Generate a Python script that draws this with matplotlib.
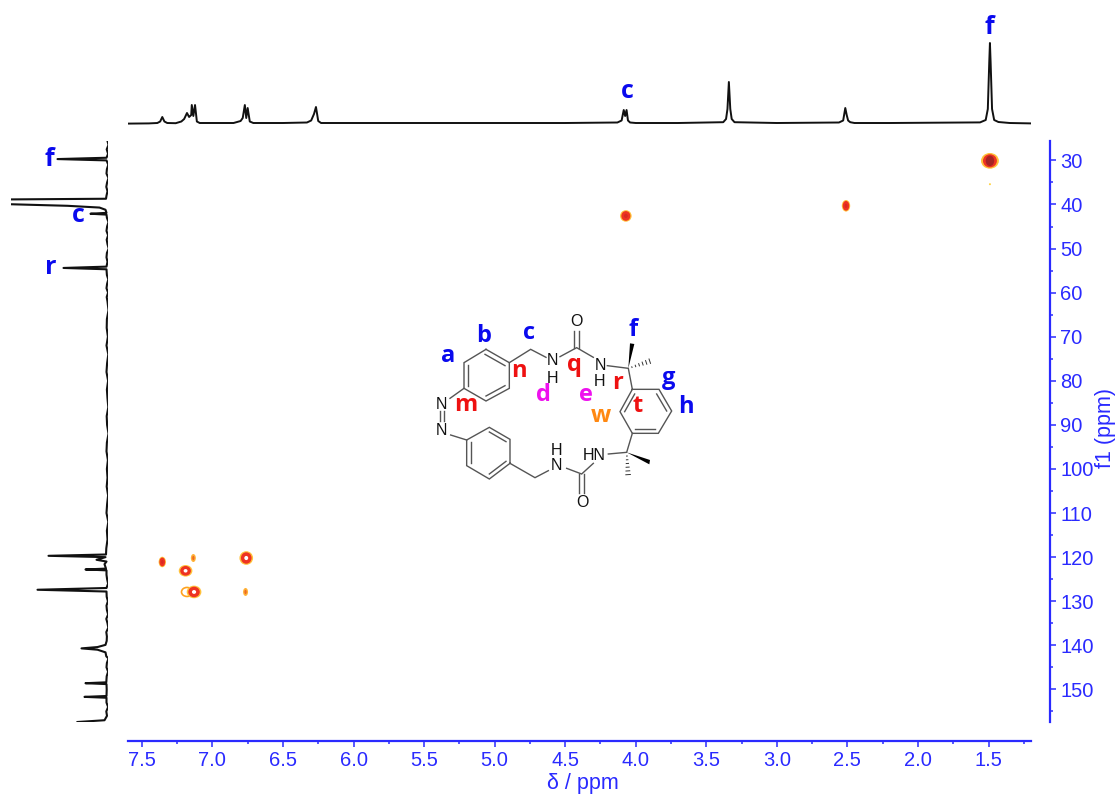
import matplotlib
matplotlib.use("Agg")
import matplotlib.pyplot as plt
from matplotlib.patches import Ellipse, Polygon

plt.rcParams["font.family"] = ["Liberation Sans", "DejaVu Sans"]

W, H = 1120, 796
BLUE = "#2a2aff"
LABEL_BLUE = "#0a0aee"

# 1H trace on top, ppm and height above baseline
top_ppm = [7.60, 7.45, 7.39, 7.37, 7.355, 7.34, 7.32, 7.26, 7.22, 7.20, 7.18, 7.165, 7.15, 7.146, 7.135, 7.123,
           7.11, 7.09, 7.0, 6.85, 6.80, 6.785, 6.77, 6.76, 6.75, 6.735, 6.71, 6.5, 6.33, 6.30, 6.28, 6.266,
           6.25, 6.23, 6.0, 5.0, 4.5, 4.13, 4.10, 4.085, 4.075, 4.065, 4.055, 4.04, 4.0, 3.7, 3.38, 3.36, 3.35,
           3.34, 3.33, 3.32, 3.30, 3.0, 2.56, 2.53, 2.515, 2.505, 2.495, 2.48, 2.45, 2.2, 1.56, 1.52, 1.505,
           1.495, 1.49, 1.485, 1.475, 1.46, 1.43, 1.35, 1.2]
top_int = [-0.6, -0.4, 0, 1.5, 6, 1.5, 0, -0.2, 1.5, 4, 10, 6, 8, 18, 7, 18,
           1.5, 0, 0, 0, 2, 5, 18, 5, 15, 1.5, 0, 0, 0.5, 2.5, 9, 16,
           2, 0, 0, 0, 0, 0.5, 2.5, 13, 7, 13, 2.5, 0.5, 0, 0, 0.8, 4, 14,
           41, 14, 4, 0.8, 0, 0.5, 2.5, 15, 8, 2.5, 0.8, 0, 0, 0.6, 3, 14,
           60, 80, 60, 14, 3, 1, 0, -0.4]

# 13C trace on the left, ppm and distance from baseline
left_ppm = [25.6, 26.5, 27.5, 28.5, 29.4, 29.7, 30.0, 31, 32, 33, 34, 35, 36, 37, 38, 38.7, 38.85]
left_int = [0, -1, 0.8, -0.6, 1, 50, 1, -0.8, 0.6, 1, -1, 0.4, 1.2, 0, 1, 1.5, 96.5]
left_ppm2 = [39.95, 40.3, 40.7, 41.2, 41.9, 42.1, 42.3, 43, 44, 45, 46, 47, 48, 49, 50, 51, 52, 53, 54.1, 54.4, 54.7,
             56, 57, 58, 59, 60, 61, 62, 64, 66, 68, 70, 72, 74, 76, 78, 80, 82, 84, 86, 88, 90, 92, 94, 96, 98, 100,
             102, 104, 106, 108, 110, 112, 114, 116, 118, 119.4, 119.7, 120.0, 120.6, 121, 121.6, 122.6, 122.8, 123.0,
             124, 125, 126, 127, 127.4, 127.8, 129, 130, 131, 132, 133, 134, 135, 136, 137, 138, 139, 139.9, 140.4,
             140.7, 141.0, 141.6, 142.5, 143, 144, 145, 146, 147, 148.4, 148.6, 148.8, 150, 151.5, 151.7, 151.9, 153,
             154, 155, 156, 157, 157.4]
left_int2 = [96.5, 40, 8, 2, 1, 17, 1, 0.6, -1, 0.4, 1, -0.6, 0.8, 0, -1.2, 0.6, 1, 0, 1, 44, 1,
             0.6, -0.8, 0.4, 1, -0.6, 0.8, 0, -1, 0.6, 0.8, -0.4, 1, -0.8, 0.4, 1, -0.6, 0.6, 0, -0.8, 0.8,
             0.4, -1, 0.6, 1, -0.4, 0.6, 0, 0.8, -0.6, 0.4, 1, -0.8, 0.6, 0, 1.2, 1.5, 59, 2, 11, 1, 3, 1.5, 22, 1,
             1, 0.4, -0.6, 1, 70, 1, 0.8, -0.4, 1, 0.6, -0.6, 1.2, 0, -0.8, 1.2, 0.6, 0.8, 2, 10,
             26, 10, 2, 1.2, -1, 0.6, 1, -0.6, 0.8, 1.2, 22, 1, 0.8, 1, 23, 1, 1,
             -0.6, 1.2, 0.5, 3, 30]

# HSQC cross peaks: x ppm, y ppm, width px, height px
spot_x = [1.49, 2.51, 4.07, 7.355, 6.76, 7.19, 7.18, 7.13, 7.135, 6.765, 1.49]
spot_y = [30.1, 40.3, 42.6, 121.1, 120.2, 123.1, 127.9, 127.9, 120.2, 127.9, 35.4]
spot_w = [17, 8, 11, 7, 13, 13, 11, 14, 5, 5, 2]
spot_h = [15, 11, 11, 10, 13, 11, 9, 12, 8, 8, 2]
spot_kind = ["dark", "red", "red", "red", "hole", "hole", "ring", "hole", "ring", "ring", "dot"]

x_major = [7.5, 7.0, 6.5, 6.0, 5.5, 5.0, 4.5, 4.0, 3.5, 3.0, 2.5, 2.0, 1.5]
x_minor = [7.25, 6.75, 6.25, 5.75, 5.25, 4.75, 4.25, 3.75, 3.25, 2.75, 2.25, 1.75, 1.25]
y_major = [30, 40, 50, 60, 70, 80, 90, 100, 110, 120, 130, 140, 150]
y_minor = [35, 45, 55, 65, 75, 85, 95, 105, 115, 125, 135, 145, 155]

# molecule, in a 960x690 drawing frame
mol_bonds = [
    [(328, 188), (392, 148), (438, 172)],
    [(480, 170), (530, 143), (580, 172)],
    [(622, 197), (685, 205), (697, 268)],
    [(697, 400), (680, 457), (625, 462)],
    [(580, 490), (545, 522), (500, 505)],
    [(445, 512), (405, 533), (330, 490)],
    [(150, 295), (192, 265)],
    [(152, 405), (200, 420)],
    [(522, 143), (522, 92)],
    [(537, 143), (537, 92)],
    [(538, 522), (538, 580)],
    [(552, 522), (552, 580)],
    [(120, 332), (120, 364)],
    [(132, 332), (132, 364)],
    [(258, 148), (328, 188), (328, 265), (258, 303), (192, 265), (192, 188), (258, 148)],
    [(255, 163), (315, 197)],
    [(315, 257), (258, 288)],
    [(204, 257), (204, 196)],
    [(697, 268), (777, 268), (815, 333), (775, 400), (697, 400), (660, 335), (697, 268)],
    [(770, 282), (800, 333)],
    [(765, 388), (705, 388)],
    [(674, 335), (704, 282)],
    [(330, 490), (330, 418), (268, 382), (200, 420), (200, 497), (268, 537), (330, 490)],
    [(268, 396), (318, 425)],
    [(212, 426), (212, 490)],
    [(268, 522), (318, 484)],
]
mol_wedges = [[(685, 205), (690, 130), (703, 132)], [(680, 457), (750, 480), (748, 493)]]
mol_hash = [((685, 205), (760, 180)), ((680, 457), (685, 535))]
mol_atoms = [("O", 530, 65), ("N", 458, 182), ("H", 458, 235), ("N", 600, 197), ("H", 600, 245), ("N", 125, 312),
             ("N", 125, 390), ("HN", 582, 465), ("H", 468, 450), ("N", 468, 497), ("O", 547, 608)]
mol_labels = [("a", 145, 168, "#0a0aee"), ("b", 252, 108, "#0a0aee"), ("c", 388, 100, "#0a0aee"),
              ("f", 698, 90, "#0a0aee"), ("g", 805, 235, "#0a0aee"), ("h", 858, 322, "#0a0aee"),
              ("n", 358, 212, "#ee1111"), ("q", 522, 195, "#ee1111"), ("r", 652, 248, "#ee1111"),
              ("m", 198, 315, "#ee1111"), ("t", 713, 318, "#ee1111"), ("d", 430, 285, "#ee11ee"),
              ("e", 558, 285, "#ee11ee"), ("w", 602, 348, "#ff8811")]


def px_axes(x0, y0, x1, y1):
    return fig.add_axes([x0 / W, 1 - y1 / H, (x1 - x0) / W, (y1 - y0) / H])


def bold(x, y, s, color=LABEL_BLUE, size=18):
    fig.text(x / W, 1 - y / H, s, color=color, fontsize=size, fontweight="bold", family="Open Sans",
             ha="center", va="center")


fig = plt.figure(figsize=(W / 100, H / 100), dpi=100)

# main panel
ax = px_axes(128, 141, 1031, 722)
ax.set_xlim(7.598, 1.199)
ax.set_ylim(157.4, 25.6)
for s in ["left", "top"]:
    ax.spines[s].set_visible(False)
for s in ["right", "bottom"]:
    ax.spines[s].set_color(BLUE)
    ax.spines[s].set_linewidth(1.6)
ax.spines["right"].set_position(("outward", 14))
ax.spines["bottom"].set_position(("outward", 13.7))
ax.yaxis.tick_right()
ax.yaxis.set_label_position("right")
ax.set_xticks(x_major)
ax.set_xticks(x_minor, minor=True)
ax.set_yticks(y_major)
ax.set_yticks(y_minor, minor=True)
ax.tick_params(which="major", length=4, width=1.1, color=BLUE, labelcolor=BLUE, labelsize=14.5, pad=3)
ax.tick_params(which="minor", length=2, width=1.1, color=BLUE)
ax.set_xlabel("δ / ppm", color=BLUE, fontsize=15.5, va="center")
ax.set_ylabel("f1 (ppm)", color=BLUE, fontsize=15.5, rotation=90, va="center", ha="center")
ax.xaxis.set_label_coords((583 - 128) / 903, (722 - 784) / 581)
ax.yaxis.set_label_coords((1106 - 128) / 903, (722 - 428) / 581)

xs = 1 / 141.2
ys = 1 / 4.408
for x, y, w, h, kind in zip(spot_x, spot_y, spot_w, spot_h, spot_kind):
    def ell(fw, fh, c, **kw):
        ax.add_patch(Ellipse((x, y), w * fw * xs, h * fh * ys, facecolor=c, **kw))
    if kind == "dot":
        ell(1, 1, "#ffd23c", linewidth=0)
    elif kind == "ring":
        if w > 6:
            ell(1, 1, "#ffffff", edgecolor="#ffa21e", linewidth=1.2)
        else:
            ell(1, 1, "#ffb238", linewidth=0)
            ell(.45, .55, "#ef6a22", linewidth=0)
    else:
        ell(1.05, 1.05, "#ffc13a", linewidth=0)
        ell(.82, .88, "#ee3322", linewidth=0)
        if kind == "dark":
            ell(.5, .7, "#a52424", linewidth=0)
        if kind == "red":
            ell(.35, .4, "#d82a22", linewidth=0)
        if kind == "hole":
            ell(.3, .32, "#ffffff", linewidth=0)

# 1D traces
top = px_axes(128, 40, 1031, 130)
top.plot(top_ppm, top_int, color="#111111", lw=1.4)
top.set_xlim(7.598, 1.199)
top.set_ylim(-7, 83)
top.axis("off")

left = px_axes(11, 141, 108.5, 722)
left.plot(left_int, left_ppm, color="#111111", lw=1.5)
left.plot(left_int2, left_ppm2, color="#111111", lw=1.5)
left.set_xlim(96.5, -1)
left.set_ylim(157.4, 25.6)
left.axis("off")

bold(989, 27, "f")
bold(627, 92, "c")
bold(49, 159, "f")
bold(78, 215, "c")
bold(51, 267, "r")

# molecule
mol = px_axes(400, 300, 720, 530)
mol.set_xlim(0, 960)
mol.set_ylim(690, 0)
mol.axis("off")
for b in mol_bonds:
    mol.plot([p[0] for p in b], [p[1] for p in b], color="#555555", lw=1.0, solid_joinstyle="miter")
for w in mol_wedges:
    mol.add_patch(Polygon(w, facecolor="black", edgecolor="none"))
for (a, b) in mol_hash:
    for i in range(1, 7):
        t = i / 7
        cx = a[0] + (b[0] - a[0]) * t
        cy = a[1] + (b[1] - a[1]) * t
        dx = -(b[1] - a[1]) / 78 * t * 8
        dy = (b[0] - a[0]) / 78 * t * 8
        mol.plot([cx - dx, cx + dx], [cy - dy, cy + dy], color="#333333", lw=0.7)
for s, x, y in mol_atoms:
    mol.text(x, y, s, fontsize=11.5, color="#111111", ha="center", va="center")
for s, x, y, c in mol_labels:
    mol.text(x, y, s, fontsize=17, color=c, fontweight="bold", family="Open Sans", ha="center", va="center")

fig.savefig("out.png", dpi=100)
